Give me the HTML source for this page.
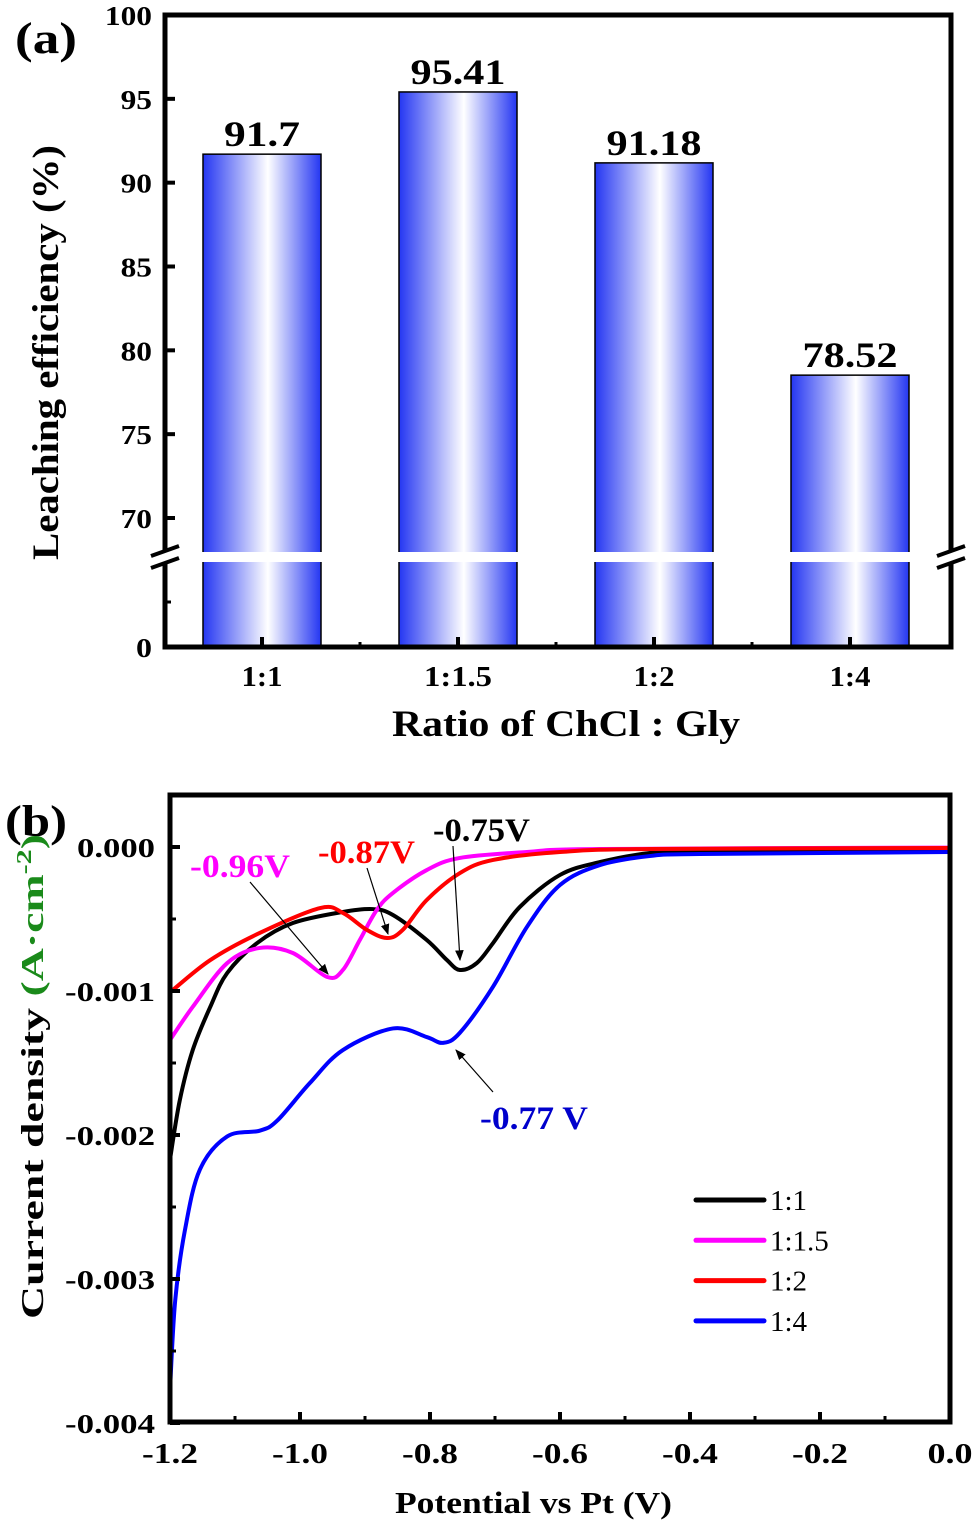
<!DOCTYPE html>
<html><head><meta charset="utf-8"><style>
html,body{margin:0;padding:0;background:#fff}
svg{display:block;font-family:"Liberation Serif",serif}
</style></head><body>
<svg id="fig" width="974" height="1527" viewBox="0 0 974 1527">
<defs>
<linearGradient id="barg" x1="0" x2="1" y1="0" y2="0">
<stop offset="0" stop-color="#2436f2"/><stop offset="0.55" stop-color="#ffffff"/><stop offset="1" stop-color="#2436f2"/>
</linearGradient>
<marker id="arr" viewBox="0 0 10 10" refX="9" refY="5" markerWidth="9" markerHeight="9" orient="auto"><path d="M0,1 L10,5 L0,9 z" fill="#000"/></marker>
</defs>
<g id="pa"></g>
<g id="pb"></g>
</svg>
<script>
// ---- Panel A data ----
const ratios = ["1:1","1:1.5","1:2","1:4"];
const efficiency = [91.7, 95.41, 91.18, 78.52];
const effLabels = ["91.7","95.41","91.18","78.52"];
const aTicks = [70,75,80,85,90,95,100];

// ---- Panel B data ----
const seriesNames = ["1:1","1:1.5","1:2","1:4"];
const seriesColors = ["#000000","#ff00ff","#ff0000","#0000ff"];
const pot11 = [-1.2,-1.185,-1.165,-1.138,-1.112,-1.066,-1.011,-0.934,-0.888,-0.857,-0.805,-0.774,-0.754,-0.728,-0.703,-0.662,-0.6,-0.538,-0.462,-0.385,0];
const cur11 = [-2.17,-1.76,-1.41,-1.11,-0.875,-0.667,-0.528,-0.451,-0.431,-0.472,-0.646,-0.785,-0.854,-0.806,-0.667,-0.417,-0.194,-0.104,-0.042,-0.028,-0.028];
const pot115 = [-1.2,-1.165,-1.112,-1.062,-1.011,-0.958,-0.934,-0.908,-0.882,-0.857,-0.805,-0.754,-0.651,-0.538,0];
const cur115 = [-1.34,-1.11,-0.806,-0.701,-0.736,-0.903,-0.854,-0.646,-0.438,-0.319,-0.16,-0.076,-0.035,-0.014,-0.004];
const pot12 = [-1.2,-1.138,-1.062,-0.969,-0.934,-0.897,-0.866,-0.842,-0.805,-0.754,-0.703,-0.6,-0.462,0];
const cur12 = [-1.01,-0.785,-0.597,-0.424,-0.458,-0.576,-0.632,-0.576,-0.368,-0.181,-0.09,-0.035,-0.014,-0.007];
const pot14 = [-1.2,-1.192,-1.177,-1.154,-1.112,-1.062,-1.035,-0.985,-0.934,-0.857,-0.805,-0.78,-0.754,-0.703,-0.651,-0.6,-0.538,-0.462,-0.385,0];
const cur14 = [-3.77,-3.15,-2.66,-2.24,-2.01,-1.97,-1.9,-1.64,-1.41,-1.26,-1.32,-1.36,-1.29,-0.97,-0.556,-0.264,-0.125,-0.063,-0.049,-0.035];
const bYTicks = [0,-1,-2,-3,-4];
const bYLabels = ["0.000","-0.001","-0.002","-0.003","-0.004"];
const bXTicks = [-1.2,-1.0,-0.8,-0.6,-0.4,-0.2,0.0];
const bXLabels = ["-1.2","-1.0","-0.8","-0.6","-0.4","-0.2","0.0"];

const NS="http://www.w3.org/2000/svg";
function mk(parent,tag,attrs,txt){const e=document.createElementNS(NS,tag);for(const k in attrs)e.setAttribute(k,attrs[k]);if(txt!==undefined)e.textContent=txt;parent.appendChild(e);return e;}
function fit(attrs,w){attrs.textLength=w;attrs.lengthAdjust='spacingAndGlyphs';return attrs;}

// ===== Panel A =====
const A=document.getElementById('pa');
const aL=165,aR=951,aT=15,aB=647,brk=557;
const ay=v=>aT+(100-v)*(518-aT)/30;
const bandW=196, ax=i=>262+i*bandW;
mk(A,'text',fit({x:15,y:53,'font-size':44,'font-weight':'bold'},62),'(a)');
efficiency.forEach((v,i)=>{
  const b=mk(A,'rect',{x:ax(i)-59,y:ay(v),width:118,height:aB-ay(v),fill:'url(#barg)',stroke:'#000','stroke-width':1.5});
  
  
  const w=effLabels[i].length*19;
  const t=mk(A,'text',fit({x:ax(i)-w/2,y:ay(v)-8,'font-size':36,'font-weight':'bold'},w),effLabels[i]);
  
  
});
mk(A,'rect',{x:aL+3,y:brk-5,width:aR-aL-6,height:10,fill:'#fff'});
mk(A,'path',{d:`M${aL},${aT}H${aR}V${aB}H${aL}Z`,fill:'none',stroke:'#000','stroke-width':5});
mk(A,'rect',{x:aL-8,y:brk-5,width:16,height:10,fill:'#fff'});
mk(A,'rect',{x:aR-8,y:brk-5,width:16,height:10,fill:'#fff'});
[aL,aR].forEach(xx=>{
  mk(A,'line',{x1:xx-14,y1:brk-1,x2:xx+14,y2:brk-11,stroke:'#000','stroke-width':4});
  mk(A,'line',{x1:xx-14,y1:brk+11,x2:xx+14,y2:brk+1,stroke:'#000','stroke-width':4});
});
aTicks.forEach(v=>{
  mk(A,'line',{x1:aL,x2:aL+10,y1:ay(v),y2:ay(v),stroke:'#000','stroke-width':4});
  const s=String(v), w=s.length*15.7;
  const t=mk(A,'text',fit({x:152-w,y:ay(v)+10,'font-size':27,'font-weight':'bold'},w),s);
  
  
});
mk(A,'line',{x1:aL,x2:aL+6,y1:602,y2:602,stroke:'#000','stroke-width':3});
mk(A,'text',fit({x:136,y:657,'font-size':27,'font-weight':'bold'},16),'0');
ratios.forEach((r,i)=>{
  mk(A,'line',{x1:ax(i),x2:ax(i),y1:aB,y2:aB-10,stroke:'#000','stroke-width':4});
  if(i<3) mk(A,'line',{x1:ax(i)+bandW/2,x2:ax(i)+bandW/2,y1:aB,y2:aB-5,stroke:'#000','stroke-width':3});
  const w=r.length==3?41:68;
  const t=mk(A,'text',fit({x:ax(i)-w/2,y:686,'font-size':28,'font-weight':'bold'},w),r);
  
  
});
mk(A,'text',fit({x:392,y:736,'font-size':37,'font-weight':'bold'},348),'Ratio of ChCl : Gly');
mk(A,'text',fit({x:-207,y:0,'font-size':37,'font-weight':'bold',transform:'translate(58,353) rotate(-90)'},415),'Leaching efficiency (%)');

// ===== Panel B =====
const B=document.getElementById('pb');
const bL=170,bR=950,bT=795,bB=1422;
const bx=v=>bL+(v+1.2)*650;
const by=v=>847-v*144;
mk(B,'text',fit({x:5,y:836,'font-size':44,'font-weight':'bold'},62),'(b)');
function smooth(xs,ys){
  const p=xs.map((x,i)=>[bx(x),by(ys[i])]);
  let d=`M${p[0][0]},${p[0][1]}`;
  for(let i=0;i<p.length-1;i++){
    const p0=p[i-1]||p[i],p1=p[i],p2=p[i+1],p3=p[i+2]||p2;
    d+=` C${p1[0]+(p2[0]-p0[0])/6},${p1[1]+(p2[1]-p0[1])/6} ${p2[0]-(p3[0]-p1[0])/6},${p2[1]-(p3[1]-p1[1])/6} ${p2[0]},${p2[1]}`;
  }
  return d;
}
const data=[[pot11,cur11],[pot115,cur115],[pot12,cur12],[pot14,cur14]];
const clip=mk(B,'clipPath',{id:'bclip'});mk(clip,'rect',{x:bL,y:bT,width:bR-bL,height:bB-bT});
data.forEach((s,i)=>{
  const l=mk(B,'path',{d:smooth(s[0],s[1]),fill:'none',stroke:seriesColors[i],'stroke-width':4,'clip-path':'url(#bclip)'});
  
  
});
mk(B,'rect',{x:bL,y:bT,width:bR-bL,height:bB-bT,fill:'none',stroke:'#000','stroke-width':5});
bYTicks.forEach((v,i)=>{
  mk(B,'line',{x1:bL,x2:bL+10,y1:by(v),y2:by(v),stroke:'#000','stroke-width':4});
  if(i<4) mk(B,'line',{x1:bL,x2:bL+6,y1:by(v-0.5),y2:by(v-0.5),stroke:'#000','stroke-width':3});
  const w=i==0?78:90;
  const t=mk(B,'text',fit({x:155-w,y:by(v)+10,'font-size':27,'font-weight':'bold'},w),bYLabels[i]);
  
  
});
bXTicks.forEach((v,i)=>{
  mk(B,'line',{x1:bx(v),x2:bx(v),y1:bB,y2:bB-10,stroke:'#000','stroke-width':4});
  if(i<6) mk(B,'line',{x1:bx(v+0.1),x2:bx(v+0.1),y1:bB,y2:bB-6,stroke:'#000','stroke-width':3});
  const w=i==6?45:56;
  const t=mk(B,'text',fit({x:bx(v)-w/2,y:1463,'font-size':28,'font-weight':'bold'},w),bXLabels[i]);
  
  
});
mk(B,'text',fit({x:395,y:1513,'font-size':31,'font-weight':'bold'},277),'Potential vs Pt (V)');
const yt=mk(B,'text',fit({x:-242,y:0,'font-size':32,'font-weight':'bold',transform:'translate(43,1077) rotate(-90)'},485));

mk(yt,'tspan',{},'Current density ');
mk(yt,'tspan',{fill:'#1a8a1a'},'(A·cm');
mk(yt,'tspan',{fill:'#1a8a1a',dy:-12,'font-size':21},'-2');
mk(yt,'tspan',{fill:'#1a8a1a',dy:12},')');
const ann=[
 {t:'-0.96V',c:'#ff00ff',x:190,y:877,w:100,x1:250,y1:882,x2:328,y2:974},
 {t:'-0.87V',c:'#ff0000',x:318,y:863,w:97,x1:367,y1:868,x2:388,y2:934},
 {t:'-0.75V',c:'#000000',x:433,y:841,w:97,x1:453,y1:846,x2:460,y2:960},
 {t:'-0.77 V',c:'#0000cc',x:480,y:1129,w:108,x1:493,y1:1092,x2:456,y2:1050}
];
ann.forEach(a=>{
  const t=mk(B,'text',fit({x:a.x,y:a.y,'font-size':33,'font-weight':'bold',fill:a.c},a.w),a.t);
  
  
  mk(B,'line',{x1:a.x1,y1:a.y1,x2:a.x2,y2:a.y2,stroke:'#000','stroke-width':1.2,'marker-end':'url(#arr)'});
});
seriesNames.forEach((n,i)=>{
  const y=1200+i*40.3;
  const g=mk(B,'g',{});
  
  
  mk(g,'line',{x1:696,x2:764,y1:y,y2:y,stroke:seriesColors[i],'stroke-width':5,'stroke-linecap':'round'});
  mk(g,'text',{x:770,y:y+10,'font-size':29},n);
});
</script>
</body></html>
